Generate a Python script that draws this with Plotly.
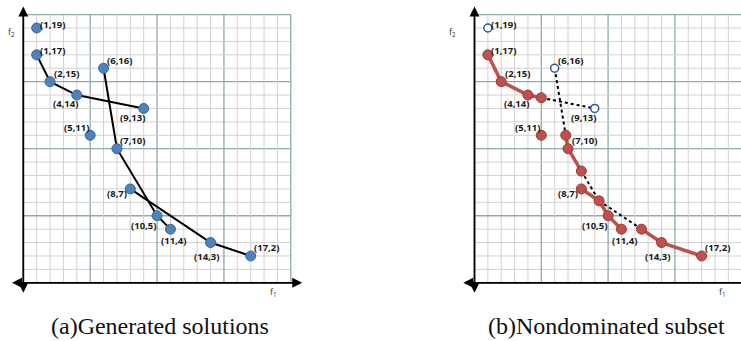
import plotly.graph_objects as go

# ---------------- data ----------------
pt_f1 = [1, 1, 2, 4, 9, 5, 6, 7, 8, 10, 11, 14, 17]
pt_f2 = [19, 17, 15, 14, 13, 11, 16, 10, 7, 5, 4, 3, 2]
pt_labels = ["(1,19)", "(1,17)", "(2,15)", "(4,14)", "(9,13)", "(5,11)", "(6,16)",
             "(7,10)", "(8,7)", "(10,5)", "(11,4)", "(14,3)", "(17,2)"]

# generated curves (panel a)
curveA_f1 = [1, 2, 4, 9]
curveA_f2 = [17, 15, 14, 13]
curveB_f1 = [6, 7, 10, 11]
curveB_f2 = [16, 10, 5, 4]
curveC_f1 = [8, 14, 17]
curveC_f2 = [7, 3, 2]

# nondominated pieces (panel b)
nd1_f1 = [1, 2, 4, 5]
nd1_f2 = [17, 15, 14, 13.8]
nd2_f1 = [6.83, 7, 8]
nd2_f2 = [11, 10, 8.33]
nd3_f1 = [8, 9.33, 10, 11]
nd3_f2 = [7, 6.11, 5, 4]
nd4_f1 = [12.5, 14, 17]
nd4_f2 = [4, 3, 2]
ndpt_f1 = [1, 2, 4, 5, 5, 6.83, 7, 8, 8, 9.33, 10, 11, 12.5, 14, 17]
ndpt_f2 = [17, 15, 14, 13.8, 11, 11, 10, 8.33, 7, 6.11, 5, 4, 4, 3, 2]

# dominated pieces (panel b, dotted)
dom1_f1 = [5, 9]
dom1_f2 = [13.8, 13]
dom2_f1 = [6, 6.83]
dom2_f2 = [16, 11]
dom3_f1 = [8, 9.33]
dom3_f2 = [8.33, 6.11]
dom4_f1 = [9.33, 12.5]
dom4_f2 = [6.11, 4]

# dominated generated points (open)
open_f1 = [1, 6, 9]
open_f2 = [19, 16, 13]

grid_ticks = list(range(0, 21))
captions = ["(a)Generated solutions", "(b)Nondominated subset"]

# ---------------- style ----------------
# label offsets in pixels (dx, dy with dy positive = up)
lab_off = [(16, 4), (16, 4), (16, 8), (-11, -8), (-11, -9), (-14, 8), (16, 8),
           (16, 8), (-13, -5), (-14, -10), (3, -11), (-4, -14), (16, 8)]

BLUE = "#4F81BD"
BLUE_D = "#3A6696"
RED = "#C0504D"
RED_D = "#963C3A"
MINOR = "#D2D2D2"
MAJOR = "#8FAAAA"

W, H = 741, 341
fig = go.Figure()

def add_grid(xr, yr):
    for t in grid_ticks:
        col = MAJOR if t % 5 == 0 else MINOR
        wd = 1.3 if t % 5 == 0 else 1
        fig.add_shape(type="line", xref=xr, yref=yr, x0=t, x1=t, y0=0, y1=20,
                      line=dict(color=col, width=wd), layer="below")
        fig.add_shape(type="line", xref=xr, yref=yr, x0=0, x1=20, y0=t, y1=t,
                      line=dict(color=col, width=wd), layer="below")

add_grid("x", "y")
add_grid("x2", "y2")

# ---- panel a ----
for cx, cy in [(curveA_f1, curveA_f2), (curveB_f1, curveB_f2), (curveC_f1, curveC_f2)]:
    fig.add_trace(go.Scatter(x=cx, y=cy, mode="lines", xaxis="x", yaxis="y",
                             line=dict(color="black", width=2), showlegend=False, hoverinfo="skip"))
fig.add_trace(go.Scatter(x=pt_f1, y=pt_f2, mode="markers", xaxis="x", yaxis="y",
                         marker=dict(size=10, color=BLUE, line=dict(color=BLUE_D, width=1)),
                         showlegend=False))

# ---- panel b ----
for cx, cy in [(dom1_f1, dom1_f2), (dom2_f1, dom2_f2), (dom3_f1, dom3_f2), (dom4_f1, dom4_f2)]:
    fig.add_trace(go.Scatter(x=cx, y=cy, mode="lines", xaxis="x2", yaxis="y2",
                             line=dict(color="black", width=2, dash="dot"), showlegend=False, hoverinfo="skip"))
for cx, cy in [(nd1_f1, nd1_f2), (nd2_f1, nd2_f2), (nd3_f1, nd3_f2), (nd4_f1, nd4_f2)]:
    fig.add_trace(go.Scatter(x=cx, y=cy, mode="lines", xaxis="x2", yaxis="y2",
                             line=dict(color=RED, width=3.5), showlegend=False, hoverinfo="skip"))
fig.add_trace(go.Scatter(x=ndpt_f1, y=ndpt_f2, mode="markers", xaxis="x2", yaxis="y2",
                         marker=dict(size=10, color=RED, line=dict(color=RED_D, width=1)),
                         showlegend=False))
fig.add_trace(go.Scatter(x=open_f1, y=open_f2, mode="markers", xaxis="x2", yaxis="y2",
                         marker=dict(size=8, color="white", line=dict(color="#2F5597", width=1.5)),
                         showlegend=False))

# ---- point labels ----
for xr, yr in [("x", "y"), ("x2", "y2")]:
    for fx, fy, t, (dx, dy) in zip(pt_f1, pt_f2, pt_labels, lab_off):
        fig.add_annotation(x=fx, y=fy, xref=xr, yref=yr, text="<b>" + t + "</b>",
                           showarrow=False, xshift=dx, yshift=dy,
                           font=dict(family="Open Sans", size=9.5, color="#1a1a1a"))

# ---- axis arrows ----
for xr, yr in [("x", "y"), ("x2", "y2")]:
    fig.add_annotation(x=20.85, y=0, ax=-0.95, ay=0, xref=xr, yref=yr, axref=xr, ayref=yr,
                       text="", showarrow=True, arrowhead=2, arrowside="end+start",
                       arrowsize=1.1, arrowwidth=1.8, arrowcolor="black", standoff=0, startstandoff=0)
    fig.add_annotation(x=0, y=20.6, ax=0, ay=-0.85, xref=xr, yref=yr, axref=xr, ayref=yr,
                       text="", showarrow=True, arrowhead=2, arrowside="end+start",
                       arrowsize=1.1, arrowwidth=1.8, arrowcolor="black", standoff=0, startstandoff=0)

# axis names
fig.add_annotation(x=18.74, y=-0.7, xref="x", yref="y", text="f<sub>1</sub>", showarrow=False,
                   font=dict(family="Open Sans", size=9, color="#333333"))
fig.add_annotation(x=-0.85, y=18.7, xref="x", yref="y", text="f<sub>2</sub>", showarrow=False,
                   font=dict(family="Open Sans", size=9, color="#333333"))
fig.add_annotation(x=18.58, y=-0.7, xref="x2", yref="y2", text="f<sub>1</sub>", showarrow=False,
                   font=dict(family="Open Sans", size=9, color="#333333"))
fig.add_annotation(x=-1.65, y=18.7, xref="x2", yref="y2", text="f<sub>2</sub>", showarrow=False,
                   font=dict(family="Open Sans", size=9, color="#333333"))

# captions
for cx, t in zip([160 / W, 606 / W], captions):
    fig.add_annotation(x=cx, y=1 - 326 / H, xref="paper", yref="paper", text=t, showarrow=False,
                       xanchor="center", yanchor="middle",
                       font=dict(family="'Liberation Serif', 'Times New Roman', serif", size=24,
                                 color="#111111"))

ax_common = dict(showgrid=False, zeroline=False, showticklabels=False, showline=False, ticks="")
fig.update_layout(
    width=W, height=H, margin=dict(l=0, r=0, t=0, b=0),
    paper_bgcolor="white", plot_bgcolor="white",
    xaxis=dict(domain=[0, 305 / W], range=[-23.3 / 13.375, (305 - 23.3) / 13.375], **ax_common),
    yaxis=dict(domain=[1 - 300 / H, 1], range=[(282.8 - 300) / 13.41, 282.8 / 13.41], **ax_common),
    xaxis2=dict(domain=[441 / W, 1], range=[(441 - 474.5) / 13.36, (741 - 474.5) / 13.36], **ax_common),
    yaxis2=dict(domain=[1 - 300 / H, 1], range=[(282.8 - 300) / 13.41, 282.8 / 13.41], **ax_common),
    showlegend=False,
)

fig.write_html("out.html", config={"displayModeBar": False},
               post_script="document.body.style.margin='0';document.body.style.padding='0';document.body.style.overflow='hidden';")
